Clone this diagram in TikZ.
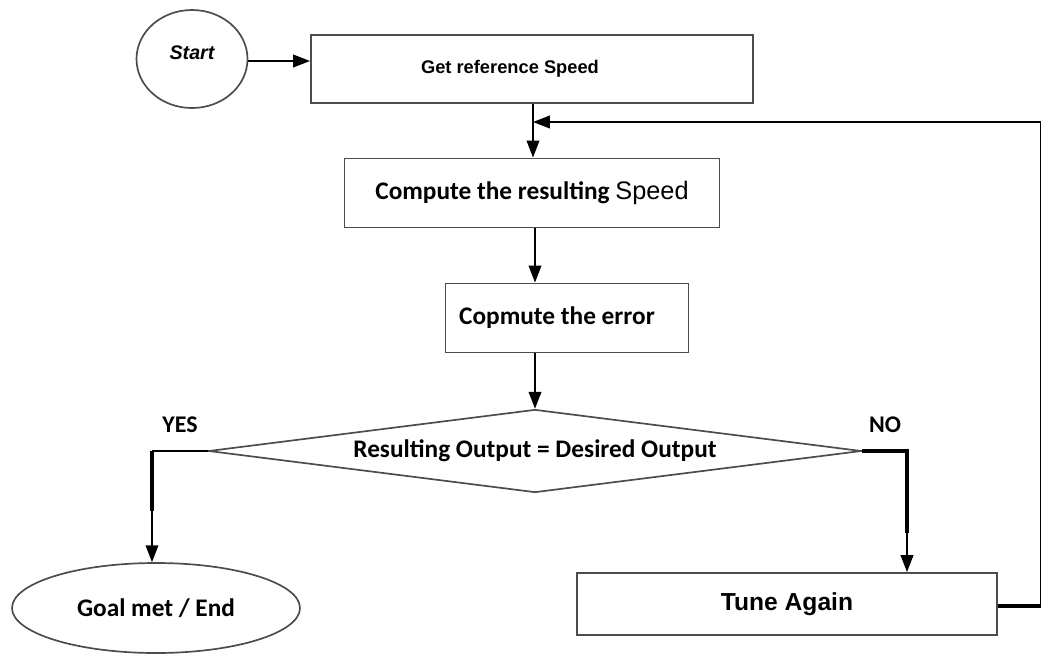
\documentclass[tikz,border=0pt]{standalone}
\usepackage{fontspec}
\setmainfont{Carlito}
\newfontfamily\arialfont{Liberation Sans}
\usetikzlibrary{positioning,calc,arrows.meta,shapes.geometric}
\tikzset{>={Triangle[length=12pt,width=9pt]}}
\tikzset{
  box/.style={draw=black!70,line width=1.4pt,rectangle,inner sep=0pt,font=\bfseries\fontsize{18}{21}\selectfont},
  oval/.style={draw=black!70,line width=1.2pt,ellipse,inner sep=0pt,font=\bfseries\fontsize{18}{21}\selectfont},
  flow/.style={->,line width=1.2pt},
  heavy/.style={line width=2.6pt},
  tag/.style={font=\bfseries\fontsize{17}{20}\selectfont}
}

\begin{document}
\begin{tikzpicture}[x=0.025cm,y=-0.025cm]
\useasboundingbox (0,0) rectangle (1041,654);
% shapes
\node[oval,minimum width=111*0.025cm,minimum height=98*0.025cm] (start) at (192,59)
  {\raisebox{0.3cm}{\arialfont\itshape\fontsize{14}{16}\selectfont Start}};
\node[box,minimum width=442*0.025cm,minimum height=68*0.025cm] (ref) at (532,69)
  {\arialfont\fontsize{13}{16}\selectfont Get reference Speed\hspace*{1.1cm}};
\node[box,minimum width=375*0.025cm,minimum height=69*0.025cm] (comp) at (532,193)
  {Compute the resulting \mdseries\arialfont\fontsize{18}{21}\selectfont Speed};
\node[box,minimum width=243*0.025cm,minimum height=69*0.025cm] (err) at (567,318)
  {Copmute the error\hspace*{0.5cm}};
\node[draw=black!70,line width=1.2pt,diamond,inner sep=0pt,aspect=7.7,
  minimum width=653*0.025cm,minimum height=83*0.025cm,font=\bfseries\fontsize{18}{21}\selectfont] (dec) at (535,451)
  {Resulting Output = Desired Output};
\node[oval,minimum width=288*0.025cm,minimum height=90*0.025cm] (goal) at (156,608) {Goal met / End};
\node[box,minimum width=420*0.025cm,minimum height=62*0.025cm] (tune) at (787,604)
  {\arialfont\fontsize{17.5}{20}\selectfont Tune Again};
\node[tag] (yes) at (180,425) {YES};
\node[tag] (no) at (885,425) {NO};
\coordinate (lft) at (152,451);
\coordinate (rgt) at (907,451);
\coordinate (edge) at (1040.5,606);
\coordinate (fb) at (533,122);

% connectors
\draw[flow] (start.east |- 0,61) -- (ref.west |- 0,61);
\draw[line width=1.2pt] (ref.south -| fb) -- (fb);
\draw[flow] (fb) -- (comp.north -| fb);
\draw[flow] (comp.south -| dec.north) -- (err.north -| dec.north);
\draw[flow] (err.south -| dec.north) -- (dec.north);
\draw[line width=1.2pt] (dec.west) -- (lft);
\draw[heavy] (lft) -- ++(0,60);
\draw[flow] ($(lft)+(0,58)$) -- (goal.north -| lft);
\draw[heavy] (dec.east) -- (rgt) -- ++(0,82);
\draw[flow] ($(rgt)+(0,80)$) -- (tune.north -| rgt);
\draw[heavy] (tune.east |- edge) -- (edge);
\draw[line width=1.2pt] (edge) -- (edge |- fb);
\draw[flow] (edge |- fb) -- (fb);
\end{tikzpicture}
\end{document}
